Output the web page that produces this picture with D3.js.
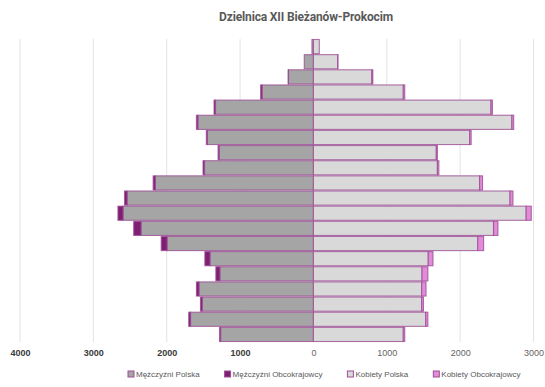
<!DOCTYPE html>
<html><head><meta charset="utf-8">
<script src="https://cdn.jsdelivr.net/npm/d3@7"></script>
<style>body{margin:0;background:#fff}svg{display:block;font-family:"Liberation Sans",Arial,sans-serif}</style>
</head><body><svg id="c" width="545" height="387"></svg>
<script>
// age groups, top to bottom
const ageGroups = ["95+","90-94","85-89","80-84","75-79","70-74","65-69","60-64","55-59","50-54","45-49","40-44","35-39","30-34","25-29","20-24","15-19","10-14","5-9","0-4"];
const menPolish   = [20,125,340,700,1335,1575,1445,1285,1485,2155,2540,2595,2350,1995,1410,1275,1560,1515,1675,1265];
const menForeign  = [0,0,5,20,20,20,15,15,20,30,35,70,100,80,70,55,35,25,25,15];
const womenPolish = [80,330,795,1225,2420,2705,2130,1675,1690,2265,2680,2900,2455,2240,1565,1480,1475,1475,1530,1225];
const womenForeign= [0,5,15,20,20,25,20,15,20,40,40,70,60,80,65,80,60,25,30,20];
const tickValues = [-4000,-3000,-2000,-1000,0,1000,2000,3000];
const seriesNames = ["Mężczyźni Polska","Mężczyźni Obcokrajowcy","Kobiety Polska","Kobiety Obcokrajowcy"];
const colors = ["#A5A5A5","#7F1F74","#D9D9D9","#E28BD9"];
const title = "Dzielnica XII Bieżanów-Prokocim";

const svg = d3.select("#c");
const plotTop = 39, plotBottom = 342;
const x = d3.scaleLinear().domain([-4000,3000]).range([20,533.5]);
const y = d3.scaleBand().domain(ageGroups).range([plotTop,plotBottom]).padding(0);

// gridlines
svg.append("g").selectAll("line").data(tickValues).join("line")
  .attr("x1",d=>x(d)).attr("x2",d=>x(d)).attr("y1",plotTop).attr("y2",plotBottom)
  .attr("stroke","#E3E3E3").attr("stroke-width",1);

const stroke = "#9C4E95";
const rows = ageGroups.map((a,i)=>({a, mp:menPolish[i], mf:menForeign[i], wp:womenPolish[i], wf:womenForeign[i]}));
const g = svg.append("g");
function seg(x0,x1,a,color){
  const lo=Math.min(x(x0),x(x1)), hi=Math.max(x(x0),x(x1));
  g.append("rect").attr("x",lo).attr("y",y(a)+0.5).attr("width",Math.max(hi-lo,0)).attr("height",y.bandwidth()-1)
   .attr("fill",color).attr("stroke",stroke).attr("stroke-opacity",0.8).attr("stroke-width",1.1);
}
rows.forEach(r=>{
  seg(0,-r.mp,r.a,colors[0]);
  if(r.mf>0) seg(-r.mp,-r.mp-r.mf,r.a,colors[1]);
  seg(0,r.wp,r.a,colors[2]);
  if(r.wf>0) seg(r.wp,r.wp+r.wf,r.a,colors[3]);
});

// axis
const ax = svg.append("g").attr("transform",`translate(0,${plotBottom})`)
  .call(d3.axisBottom(x).tickValues(tickValues).tickSize(0).tickPadding(8).tickFormat(d=>Math.abs(d)));
ax.select(".domain").remove();
ax.selectAll("text").attr("font-size","9px").attr("font-family","Liberation Sans, Arial, sans-serif")
  .attr("fill",d=>d<0?"#3a3a3a":"#666").attr("font-weight",d=>d<0?"bold":"normal");

// title
svg.append("text").attr("x",306).attr("y",21).attr("text-anchor","middle")
  .attr("font-size","12px").attr("font-weight","bold").attr("fill","#595959")
  .attr("letter-spacing","-0.15px")
  .attr("font-family","Roboto, sans-serif").text(title);

// legend
const lg = svg.append("g").attr("transform","translate(128,376)");
let lx = 0;
seriesNames.forEach((n,i)=>{
  const it = lg.append("g").attr("transform",`translate(${lx},0)`);
  it.append("rect").attr("x",0).attr("y",-5).attr("width",6).attr("height",6)
    .attr("fill",colors[i]).attr("stroke",stroke).attr("stroke-width",1);
  const t = it.append("text").attr("x",8).attr("y",1).attr("font-size","8px").attr("fill","#595959").text(n);
  lx += 8 + t.node().getComputedTextLength() + 25;
});
</script></body></html>
